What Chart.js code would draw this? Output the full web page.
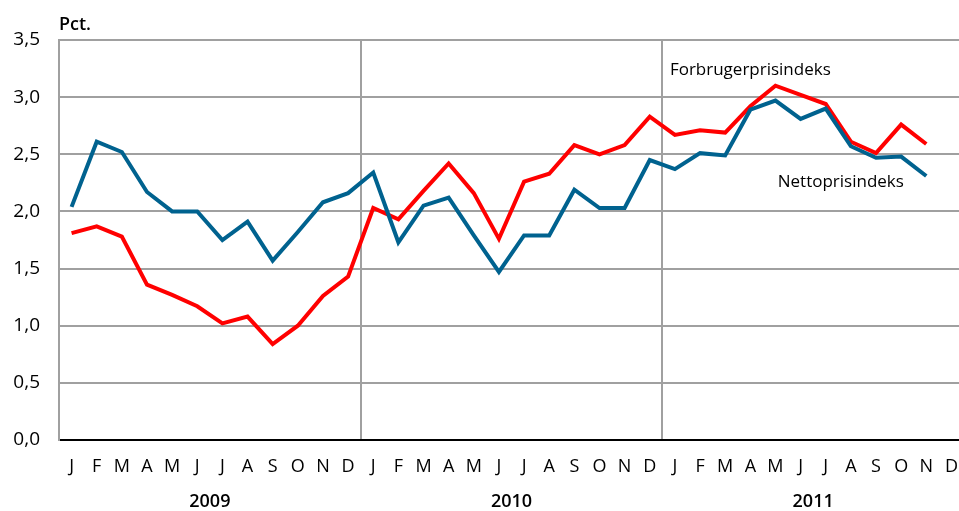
<!DOCTYPE html>
<html>
<head>
<meta charset="utf-8">
<script src="https://cdn.jsdelivr.net/npm/chart.js@4"></script>
<style>
  html, body { margin: 0; padding: 0; background: #fff; overflow: hidden; }
  #wrap { width: 964px; height: 511px; position: relative; }
</style>
</head>
<body>
<div id="wrap"><canvas id="prisStats"></canvas></div>
<script>
const months = ['J', 'F', 'M', 'A', 'M', 'J', 'J', 'A', 'S', 'O', 'N', 'D'];
const years = ['2009', '2010', '2011'];
const yTicks = [0, 0.5, 1, 1.5, 2, 2.5, 3, 3.5];

// Forbrugerprisindeks, pct. (jan 2009 - nov 2011)
const forbruger = [
  1.81, 1.87, 1.78, 1.36, 1.27, 1.17, 1.02, 1.08, 0.84, 1.00, 1.26, 1.43,
  2.03, 1.93, 2.18, 2.42, 2.16, 1.76, 2.26, 2.33, 2.58, 2.50, 2.58, 2.83,
  2.67, 2.71, 2.69, 2.92, 3.10, 3.02, 2.94, 2.61, 2.51, 2.76, 2.59, null
];
// Nettoprisindeks, pct.
const netto = [
  2.04, 2.61, 2.52, 2.17, 2.00, 2.00, 1.75, 1.91, 1.57, 1.82, 2.08, 2.16,
  2.34, 1.73, 2.05, 2.12, 1.79, 1.47, 1.79, 1.79, 2.19, 2.03, 2.03, 2.45,
  2.37, 2.51, 2.49, 2.89, 2.97, 2.81, 2.90, 2.57, 2.47, 2.48, 2.31, null
];

const labels = [];
years.forEach(() => months.forEach(m => labels.push(m)));

const FONT = "'Open Sans', 'DejaVu Sans', sans-serif";

const textPlugin = {
  id: 'texts',
  afterDraw(chart) {
    const ctx = chart.ctx;
    const area = chart.chartArea;
    const x = chart.scales.x;
    const y = chart.scales.y;
    ctx.save();
    ctx.fillStyle = '#000';
    ctx.textBaseline = 'middle';

    // years under the month labels
    ctx.font = '600 18px ' + FONT;
    ctx.textAlign = 'center';
    const w = (area.right - area.left) / years.length;
    years.forEach((yr, i) => {
      ctx.fillText(yr, area.left + w * (i + 0.5), 502);
    });

    // unit
    ctx.textAlign = 'left';
    ctx.font = '600 18px ' + FONT;
    ctx.fillText('Pct.', 59, 25);

    // series names
    ctx.font = '500 17px ' + FONT;
    ctx.textAlign = 'center';
    ctx.fillText('Forbrugerprisindeks', x.getPixelForValue(27), y.getPixelForValue(3.24));
    ctx.fillText('Nettoprisindeks', x.getPixelForValue(30.6), y.getPixelForValue(2.26));
    ctx.restore();
  }
};

function prisChart() {
  const ctx = document.getElementById('prisStats');

  new Chart(ctx, {
    type: 'line',
    data: {
      labels: labels,
      datasets: [{
        label: 'Nettoprisindeks',
        data: netto,
        borderColor: '#00628f',
        borderWidth: 4,
        pointRadius: 0,
        tension: 0,
        borderJoinStyle: 'miter'
      }, {
        label: 'Forbrugerprisindeks',
        data: forbruger,
        borderColor: '#ff0000',
        borderWidth: 4,
        pointRadius: 0,
        tension: 0,
        borderJoinStyle: 'miter'
      }]
    },
    options: {
      responsive: true,
      maintainAspectRatio: false,
      animation: false,
      layout: { padding: { top: 40, right: 0, left: 0, bottom: 0 } },
      plugins: {
        legend: { display: false },
        tooltip: { enabled: false }
      },
      scales: {
        x: {
          offset: true,
          afterFit: s => { s.height = 71; s.paddingLeft = 0; s.paddingRight = 0; },
          grid: {
            offset: true,
            drawTicks: false,
            lineWidth: 2,
            color: c => (c.index === 12 || c.index === 24) ? '#a0a0a0' : 'rgba(0,0,0,0)'
          },
          border: { color: '#000', width: 2 },
          ticks: {
            autoSkip: false,
            maxRotation: 0,
            padding: 16,
            color: '#000',
            font: { family: FONT, size: 18, weight: 500 }
          }
        },
        y: {
          min: 0,
          max: 3.5,
          afterFit: s => { s.width = 59; },
          afterBuildTicks: s => { s.ticks = yTicks.map(v => ({ value: v })); },
          grid: { color: '#a0a0a0', lineWidth: 2, drawTicks: false },
          border: { color: '#a0a0a0', width: 2 },
          ticks: {
            padding: 19,
            color: '#000',
            font: { family: FONT, size: 19, weight: 500 },
            callback: v => v.toFixed(1).replace('.', ',')
          }
        }
      }
    },
    plugins: [textPlugin]
  });
}

prisChart();
</script>
</body>
</html>
